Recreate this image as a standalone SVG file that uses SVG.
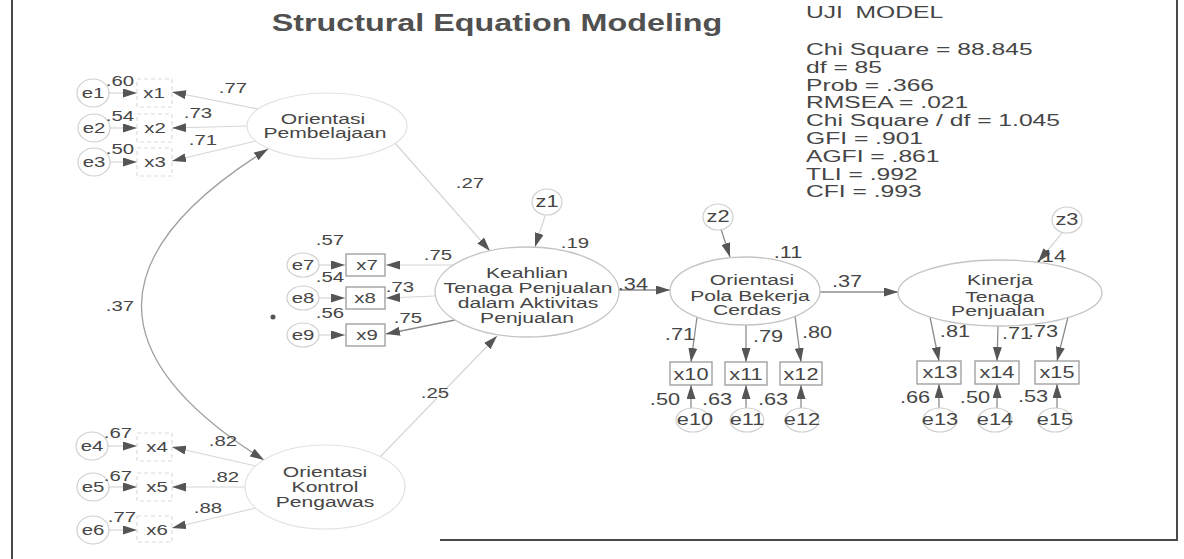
<svg xmlns="http://www.w3.org/2000/svg" width="1184" height="559" viewBox="0 0 1184 559">
<style>
text{font-family:"Liberation Sans",Arial,Helvetica,sans-serif;fill:#464646;text-anchor:middle;transform-box:fill-box;transform-origin:center;transform:scaleX(1.36)}
.s{font-size:15px}
.m{font-size:16px}
.lv{font-size:15.5px}
.title{font-size:24.5px;font-weight:bold;fill:#505050;transform:scaleX(1.32)}
.st text{font-size:17px;text-anchor:start;transform:none}
.ln{fill:none;stroke:#8c8c8c;stroke-width:1.3}
.arc{fill:none;stroke:#a0a0a0;stroke-width:1.3}
.fl{fill:none;stroke:#d6d6d6;stroke-width:1.2}
.box{fill:none;stroke:#9a9a9a;stroke-width:1.3}
.fbox{fill:none;stroke:#dcdcdc;stroke-width:1.2;stroke-dasharray:4 3}
.err{fill:none;stroke:#cfcfcf;stroke-width:1.2}
.lat{fill:none;stroke:#c4c4c4;stroke-width:1.3}
.flat{fill:none;stroke:#e2e2e2;stroke-width:1.2}
.frame{fill:none;stroke:#4a4a4a;stroke-width:2}
</style>
<defs>
<marker id="ah" viewBox="0 0 14 9" markerWidth="14" markerHeight="9" refX="14" refY="4.5" orient="auto" markerUnits="userSpaceOnUse"><path d="M0,0 L14,4.5 L0,9 z" fill="#555"/></marker>
<marker id="ahs" viewBox="0 0 14 9" markerWidth="14" markerHeight="9" refX="14" refY="4.5" orient="auto-start-reverse" markerUnits="userSpaceOnUse"><path d="M0,0 L14,4.5 L0,9 z" fill="#555"/></marker>
</defs>
<rect width="1184" height="559" fill="#fff"/>
<g id="frame">
<line class="frame" x1="12" y1="0" x2="12" y2="559"/>
<line class="frame" x1="1177" y1="0" x2="1177" y2="540"/>
<line class="frame" x1="440" y1="540" x2="1178" y2="540"/>
</g>
<text class="title" x="497" y="31">Structural Equation Modeling</text>
<g id="fit-stats" class="st" transform="translate(806,0) scale(1.45,1)">
<text x="0" y="18" word-spacing="4">UJI MODEL</text>
<text x="0" y="55">Chi Square = 88.845</text>
<text x="0" y="72.8">df = 85</text>
<text x="0" y="90.6">Prob = .366</text>
<text x="0" y="108.4">RMSEA = .021</text>
<text x="0" y="126.2">Chi Square / df = 1.045</text>
<text x="0" y="144">GFI = .901</text>
<text x="0" y="161.8">AGFI = .861</text>
<text x="0" y="179.6">TLI = .992</text>
<text x="0" y="197.4">CFI = .993</text>
</g>
<g id="connectors">
<path class="arc" d="M268,149 Q17,305 264,460" marker-start="url(#ahs)" marker-end="url(#ahs)"/>
<line class="fl" x1="395" y1="143" x2="490" y2="251" marker-end="url(#ah)"/>
<line class="fl" x1="380" y1="457" x2="497" y2="336" marker-end="url(#ah)"/>
<line class="fl" x1="545" y1="216" x2="535" y2="247" marker-end="url(#ah)"/>
<line class="fl" x1="258" y1="109" x2="172" y2="92" marker-end="url(#ah)"/>
<line class="fl" x1="247" y1="126" x2="172" y2="128" marker-end="url(#ah)"/>
<line class="fl" x1="256" y1="141" x2="172" y2="161" marker-end="url(#ah)"/>
<line class="fl" x1="109" y1="93" x2="137" y2="93" marker-end="url(#ah)"/>
<line class="fl" x1="110" y1="128" x2="137" y2="128" marker-end="url(#ah)"/>
<line class="fl" x1="110" y1="162" x2="137" y2="162" marker-end="url(#ah)"/>
<line class="fl" x1="256" y1="466" x2="172" y2="447" marker-end="url(#ah)"/>
<line class="fl" x1="245" y1="487" x2="172" y2="487" marker-end="url(#ah)"/>
<line class="fl" x1="256" y1="508" x2="172" y2="528" marker-end="url(#ah)"/>
<line class="fl" x1="108" y1="446" x2="137" y2="446" marker-end="url(#ah)"/>
<line class="fl" x1="109" y1="487" x2="137" y2="487" marker-end="url(#ah)"/>
<line class="fl" x1="109" y1="530" x2="137" y2="530" marker-end="url(#ah)"/>
<line class="fl" x1="453" y1="265" x2="386" y2="265" marker-end="url(#ah)"/>
<line class="fl" x1="435" y1="296" x2="386" y2="298" marker-end="url(#ah)"/>
<line class="ln" x1="455" y1="320" x2="386" y2="334" marker-end="url(#ah)"/>
<line class="fl" x1="319" y1="265" x2="345" y2="265" marker-end="url(#ah)"/>
<line class="fl" x1="319" y1="298" x2="345" y2="298" marker-end="url(#ah)"/>
<line class="fl" x1="319" y1="335" x2="345" y2="335" marker-end="url(#ah)"/>
<line class="ln" x1="619" y1="290" x2="670" y2="290" marker-end="url(#ah)"/>
<line class="ln" x1="721" y1="229" x2="730" y2="257" marker-end="url(#ah)"/>
<line class="ln" x1="820" y1="292" x2="898" y2="292" marker-end="url(#ah)"/>
<line class="ln" x1="697" y1="317" x2="691" y2="362" marker-end="url(#ah)"/>
<line class="ln" x1="746" y1="325" x2="746" y2="362" marker-end="url(#ah)"/>
<line class="ln" x1="795" y1="316" x2="801" y2="362" marker-end="url(#ah)"/>
<line class="ln" x1="691" y1="408" x2="691" y2="385" marker-end="url(#ah)"/>
<line class="ln" x1="746" y1="408" x2="746" y2="385" marker-end="url(#ah)"/>
<line class="ln" x1="801" y1="408" x2="801" y2="385" marker-end="url(#ah)"/>
<line class="fl" x1="1062" y1="233" x2="1038" y2="262" marker-end="url(#ah)"/>
<line class="ln" x1="930" y1="317" x2="939" y2="361" marker-end="url(#ah)"/>
<line class="ln" x1="998" y1="326" x2="997" y2="361" marker-end="url(#ah)"/>
<line class="ln" x1="1068" y1="317" x2="1057" y2="361" marker-end="url(#ah)"/>
<line class="ln" x1="939" y1="408" x2="939" y2="384" marker-end="url(#ah)"/>
<line class="ln" x1="997" y1="408" x2="997" y2="384" marker-end="url(#ah)"/>
<line class="ln" x1="1057" y1="408" x2="1057" y2="384" marker-end="url(#ah)"/>
</g>
<text class="s" x="120" y="311">.37</text>
<text class="s" x="470" y="188">.27</text>
<text class="s" x="435" y="398">.25</text>
<text class="m" x="633" y="290">.34</text>
<text class="m" x="847" y="287">.37</text>
<circle cx="273" cy="317" r="2.5" fill="#555"/>
<g id="orientasi-pembelajaan">
<ellipse class="flat" cx="327" cy="126" rx="80" ry="33"/>
<text class="lv" x="323" y="124">Orientasi</text>
<text class="lv" x="325" y="138.5">Pembelajaan</text>
</g>
<g id="orientasi-kontrol-pengawas">
<ellipse class="flat" cx="325" cy="487" rx="80" ry="42"/>
<text class="lv" x="325" y="477">Orientasi</text>
<text class="lv" x="325" y="492">Kontrol</text>
<text class="lv" x="325" y="507">Pengawas</text>
</g>
<g id="keahlian">
<ellipse class="lat" cx="527" cy="292" rx="92" ry="45"/>
<text class="lv" x="527" y="278">Keahlian</text>
<text class="lv" x="528" y="293">Tenaga Penjualan</text>
<text class="lv" x="528" y="308">dalam Aktivitas</text>
<text class="lv" x="527" y="323">Penjualan</text>
<text class="s" x="575" y="248">.19</text>
</g>
<g id="orientasi-pola">
<ellipse class="lat" cx="745" cy="291" rx="75" ry="34"/>
<text class="lv" x="752" y="285">Orientasi</text>
<text class="lv" x="750" y="301">Pola Bekerja</text>
<text class="lv" x="747" y="315">Cerdas</text>
<text class="m" x="788" y="258">.11</text>
</g>
<g id="kinerja">
<ellipse class="lat" cx="1000" cy="293" rx="102" ry="33"/>
<text class="lv" x="1000" y="285">Kinerja</text>
<text class="lv" x="1000" y="302">Tenaga</text>
<text class="lv" x="998" y="316">Penjualan</text>
<text class="m" x="1051" y="262">.14</text>
</g>
<g id="z1"><ellipse class="err" cx="547" cy="202" rx="15" ry="13"/><text class="m" x="547" y="207">z1</text></g>
<g id="z2"><ellipse class="err" cx="718" cy="217" rx="15" ry="13"/><text class="m" x="718" y="222">z2</text></g>
<g id="z3"><ellipse class="err" cx="1067" cy="220" rx="15" ry="13"/><text class="m" x="1067" y="225">z3</text></g>
<g id="x1"><rect class="fbox" x="137" y="79" width="35" height="28"/><text class="s" x="154" y="98">x1</text><text class="s" x="233" y="93">.77</text></g>
<g id="x2"><rect class="fbox" x="137" y="114" width="35" height="28"/><text class="s" x="155" y="133">x2</text><text class="s" x="198" y="118">.73</text></g>
<g id="x3"><rect class="fbox" x="137" y="148" width="35" height="28"/><text class="s" x="155" y="167">x3</text><text class="s" x="203" y="145">.71</text></g>
<g id="e1"><ellipse class="err" cx="93" cy="93" rx="16" ry="14"/><text class="s" x="93" y="98">e1</text><text class="s" x="120" y="86">.60</text></g>
<g id="e2"><ellipse class="err" cx="94" cy="128" rx="16" ry="14"/><text class="s" x="94" y="133">e2</text><text class="s" x="120" y="121">.54</text></g>
<g id="e3"><ellipse class="err" cx="94" cy="162" rx="16" ry="14"/><text class="s" x="94" y="167">e3</text><text class="s" x="120" y="154">.50</text></g>
<g id="x4"><rect class="fbox" x="137" y="433" width="35" height="28"/><text class="s" x="157" y="452">x4</text><text class="s" x="223" y="446">.82</text></g>
<g id="x5"><rect class="fbox" x="137" y="473" width="35" height="28"/><text class="s" x="157" y="492">x5</text><text class="s" x="225" y="482">.82</text></g>
<g id="x6"><rect class="fbox" x="137" y="516" width="35" height="26"/><text class="s" x="157" y="535">x6</text><text class="s" x="208" y="513">.88</text></g>
<g id="e4"><ellipse class="err" cx="92" cy="446" rx="16" ry="14"/><text class="s" x="92" y="451">e4</text><text class="s" x="118" y="438">.67</text></g>
<g id="e5"><ellipse class="err" cx="93" cy="487" rx="16" ry="14"/><text class="s" x="93" y="492">e5</text><text class="s" x="118" y="481">.67</text></g>
<g id="e6"><ellipse class="err" cx="93" cy="530" rx="16" ry="14"/><text class="s" x="93" y="535">e6</text><text class="s" x="122" y="522">.77</text></g>
<g id="x7"><rect class="box" x="346" y="254" width="39" height="22"/><text class="s" x="367" y="270">x7</text><text class="s" x="438" y="260">.75</text></g>
<g id="x8"><rect class="box" x="346" y="287" width="39" height="22"/><text class="s" x="365" y="303">x8</text><text class="s" x="400" y="292">.73</text></g>
<g id="x9"><rect class="box" x="346" y="324" width="39" height="22"/><text class="s" x="367" y="340">x9</text><text class="s" x="408" y="323">.75</text></g>
<g id="e7"><ellipse class="err" cx="303" cy="265" rx="16" ry="12"/><text class="s" x="303" y="270">e7</text><text class="s" x="330" y="245">.57</text></g>
<g id="e8"><ellipse class="err" cx="303" cy="298" rx="16" ry="12"/><text class="s" x="303" y="303">e8</text><text class="s" x="330" y="282">.54</text></g>
<g id="e9"><ellipse class="err" cx="303" cy="335" rx="16" ry="12"/><text class="s" x="303" y="340">e9</text><text class="s" x="330" y="318">.56</text></g>
<g id="x10"><rect class="box" x="670" y="362" width="42" height="23"/><text class="m" x="691" y="380">x10</text><text class="m" x="680" y="340">.71</text></g>
<g id="x11"><rect class="box" x="725" y="362" width="42" height="23"/><text class="m" x="746" y="380">x11</text><text class="m" x="768" y="342">.79</text></g>
<g id="x12"><rect class="box" x="780" y="362" width="42" height="23"/><text class="m" x="801" y="380">x12</text><text class="m" x="817" y="338">.80</text></g>
<g id="e10"><ellipse class="err" cx="693" cy="420" rx="17" ry="12"/><text class="m" x="695" y="425">e10</text><text class="m" x="665" y="405">.50</text></g>
<g id="e11"><ellipse class="err" cx="747" cy="420" rx="17" ry="12"/><text class="m" x="747" y="425">e11</text><text class="m" x="717" y="405">.63</text></g>
<g id="e12"><ellipse class="err" cx="802" cy="420" rx="17" ry="12"/><text class="m" x="802" y="425">e12</text><text class="m" x="773" y="405">.63</text></g>
<g id="x13"><rect class="box" x="917" y="361" width="44" height="23"/><text class="m" x="940" y="378">x13</text><text class="m" x="955" y="337">.81</text></g>
<g id="x14"><rect class="box" x="975" y="361" width="44" height="23"/><text class="m" x="997" y="378">x14</text><text class="m" x="1017" y="339">.71</text></g>
<g id="x15"><rect class="box" x="1035" y="361" width="44" height="23"/><text class="m" x="1057" y="378">x15</text><text class="m" x="1043" y="337">.73</text></g>
<g id="e13"><ellipse class="err" cx="940" cy="420" rx="17" ry="12"/><text class="m" x="940" y="425">e13</text><text class="m" x="915" y="403">.66</text></g>
<g id="e14"><ellipse class="err" cx="995" cy="420" rx="17" ry="12"/><text class="m" x="995" y="425">e14</text><text class="m" x="975" y="403">.50</text></g>
<g id="e15"><ellipse class="err" cx="1055" cy="420" rx="17" ry="12"/><text class="m" x="1055" y="425">e15</text><text class="m" x="1033" y="402">.53</text></g>
</svg>
